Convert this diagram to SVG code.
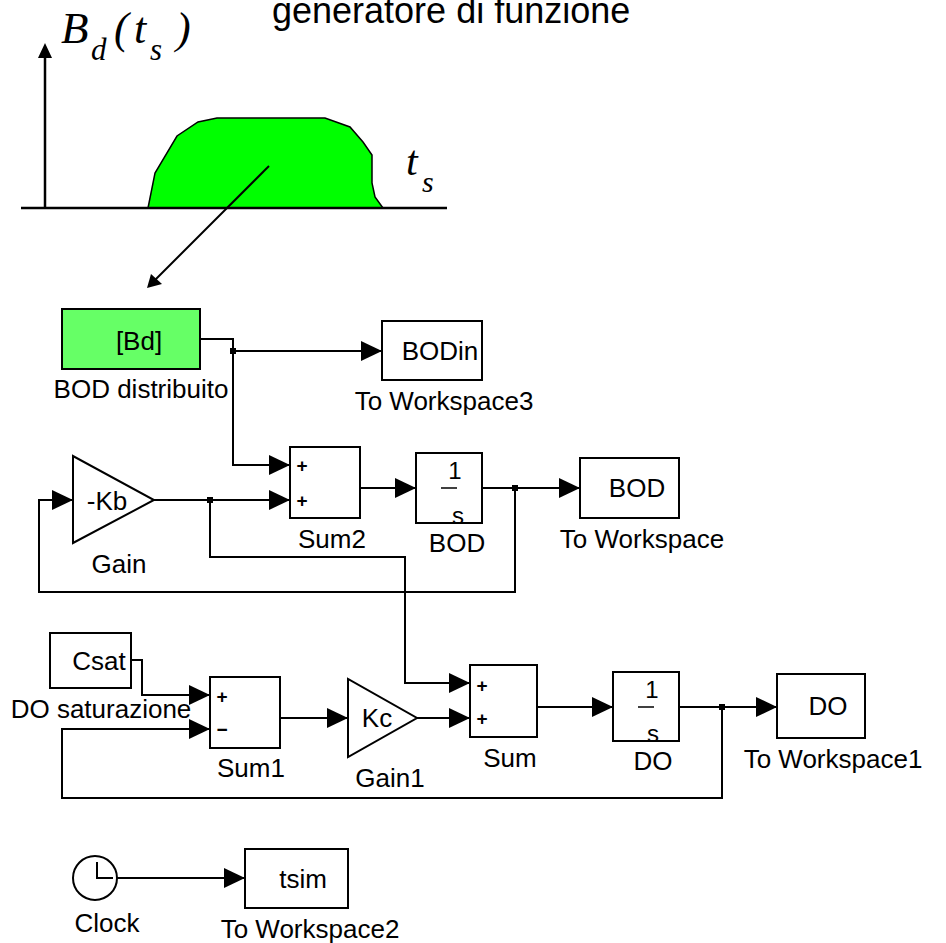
<svg xmlns="http://www.w3.org/2000/svg" width="946" height="943" viewBox="0 0 946 943">
<style>
.blk{fill:#fff;stroke:#000;stroke-width:2}
.t{font-family:"Liberation Sans",Arial,sans-serif;font-size:26px;fill:#000}
.m{text-anchor:middle}
.sg{font-family:"Liberation Sans",Arial,sans-serif;font-size:19px;font-weight:bold;fill:#000;text-anchor:middle}
.eq{font-family:"Liberation Serif","Times New Roman",serif;font-style:italic;fill:#000}
.w{fill:none;stroke:#000;stroke-width:2}
.dot{fill:#000}
</style>
<defs>
<marker id="ah" markerUnits="userSpaceOnUse" markerWidth="21" markerHeight="20" refX="21" refY="10" orient="auto" viewBox="0 0 21 20">
<path d="M0,0 L21,10 L0,20 z" fill="#000"/>
</marker>
</defs>

<g id="funzione">
<text class="t" x="272" y="23" style="font-size:36px">generatore di funzione</text>
<line x1="45" y1="56" x2="45" y2="208" stroke="#000" stroke-width="2.5"/>
<polygon points="45,43 38,58 52,58" fill="#000"/>
<polygon points="148,208 155,173 177,136 198,122 217,118 325,118 350,127 363,142 372,155 372,183 375,197 383,208" fill="#00ff00" stroke="#000" stroke-width="1.5"/>
<line x1="21" y1="208" x2="447" y2="208" stroke="#000" stroke-width="2.5"/>
<text class="eq" x="61" y="43" font-size="45">B</text>
<text class="eq" x="91" y="60" font-size="31">d</text>
<text class="eq" x="114" y="43" font-size="44">(</text>
<text class="eq" x="134" y="43" font-size="44">t</text>
<text class="eq" x="150" y="60" font-size="31">s</text>
<text class="eq" x="176" y="43" font-size="44">)</text>
<text class="eq" x="406" y="175" font-size="42">t</text>
<text class="eq" x="422" y="192" font-size="30">s</text>
<line x1="269" y1="166" x2="152" y2="283" stroke="#000" stroke-width="2"/>
<polygon points="147,288 151,274 162,284" fill="#000"/>
</g>

<g id="connectors">
<path class="w" d="M200,339 H233 V465 H290" marker-end="url(#ah)"/>
<path class="w" d="M233,351 H382" marker-end="url(#ah)"/>
<path class="w" d="M154,500 H290" marker-end="url(#ah)"/>
<path class="w" d="M210,500 V557 H405 V683 H470" marker-end="url(#ah)"/>
<path class="w" d="M515,488 V592 H39 V500 H73" marker-end="url(#ah)"/>
<path class="w" d="M360,488 H416" marker-end="url(#ah)"/>
<path class="w" d="M482,488 H580" marker-end="url(#ah)"/>
<path class="w" d="M131,660 H142 V695 H210" marker-end="url(#ah)"/>
<path class="w" d="M722,707 V798 H62 V729 H210" marker-end="url(#ah)"/>
<path class="w" d="M280,718 H348" marker-end="url(#ah)"/>
<path class="w" d="M417,718 H470" marker-end="url(#ah)"/>
<path class="w" d="M537,707 H613" marker-end="url(#ah)"/>
<path class="w" d="M679,707 H777" marker-end="url(#ah)"/>
<path class="w" d="M117,878 H245" marker-end="url(#ah)"/>
<rect class="dot" x="230" y="348" width="6" height="6"/>
<rect class="dot" x="207" y="497" width="6" height="6"/>
<rect class="dot" x="512" y="485" width="6" height="6"/>
<rect class="dot" x="719" y="704" width="6" height="6"/>
</g>

<g id="bd">
<rect x="62" y="309" width="138" height="60" fill="#66ff66" stroke="#000" stroke-width="2"/>
<text class="t m" x="139" y="350">[Bd]</text>
<text class="t m" x="141" y="398">BOD distribuito</text>
</g>

<g id="toworkspace3">
<rect class="blk" x="382" y="321" width="100" height="59"/>
<text class="t m" x="440" y="360">BODin</text>
<text class="t m" x="444" y="410">To Workspace3</text>
</g>

<g id="sum2">
<rect class="blk" x="290" y="447" width="70" height="71"/>
<text class="sg" x="302" y="472">+</text>
<text class="sg" x="302" y="507">+</text>
<text class="t m" x="332" y="548">Sum2</text>
</g>

<g id="gain">
<polygon class="blk" points="73,456 73,543 154,500"/>
<text class="t m" x="107" y="510">-Kb</text>
<text class="t m" x="119" y="573">Gain</text>
</g>

<g id="bod">
<rect class="blk" x="416" y="453" width="66" height="70"/>
<text class="t m" x="455" y="479" style="font-size:24px">1</text>
<line x1="441" y1="488" x2="457" y2="488" stroke="#000" stroke-width="1.5"/>
<text class="t m" x="458" y="524" style="font-size:24px">s</text>
<text class="t m" x="457" y="552">BOD</text>
</g>

<g id="toworkspace">
<rect class="blk" x="580" y="458" width="99" height="60"/>
<text class="t m" x="637" y="497">BOD</text>
<text class="t m" x="642" y="548">To Workspace</text>
</g>

<g id="csat">
<rect class="blk" x="50" y="633" width="81" height="55"/>
<text class="t m" x="99" y="670">Csat</text>
<text class="t m" x="101" y="718">DO saturazione</text>
</g>

<g id="sum1">
<rect class="blk" x="210" y="677" width="70" height="71"/>
<text class="sg" x="222" y="703">+</text>
<text class="sg" x="222" y="736">−</text>
<text class="t m" x="251" y="777">Sum1</text>
</g>

<g id="gain1">
<polygon class="blk" points="348,679 348,757 417,718"/>
<text class="t m" x="377" y="727">Kc</text>
<text class="t m" x="390" y="787">Gain1</text>
</g>

<g id="sum">
<rect class="blk" x="470" y="665" width="67" height="72"/>
<text class="sg" x="482" y="692">+</text>
<text class="sg" x="482" y="725">+</text>
<text class="t m" x="510" y="767">Sum</text>
</g>

<g id="do">
<rect class="blk" x="613" y="672" width="66" height="69"/>
<text class="t m" x="652" y="698" style="font-size:24px">1</text>
<line x1="638" y1="707" x2="654" y2="707" stroke="#000" stroke-width="1.5"/>
<text class="t m" x="653" y="742" style="font-size:24px">s</text>
<text class="t m" x="653" y="770">DO</text>
</g>

<g id="toworkspace1">
<rect class="blk" x="777" y="674" width="88" height="64"/>
<text class="t m" x="828" y="715">DO</text>
<text class="t m" x="833" y="768">To Workspace1</text>
</g>

<g id="clock">
<circle cx="95" cy="878" r="22" fill="#fff" stroke="#000" stroke-width="2"/>
<path d="M97,862 V878 H113" fill="none" stroke="#000" stroke-width="2"/>
<text class="t m" x="107" y="932">Clock</text>
</g>

<g id="toworkspace2">
<rect class="blk" x="245" y="849" width="103" height="59"/>
<text class="t m" x="303" y="888">tsim</text>
<text class="t m" x="310" y="938">To Workspace2</text>
</g>
</svg>
